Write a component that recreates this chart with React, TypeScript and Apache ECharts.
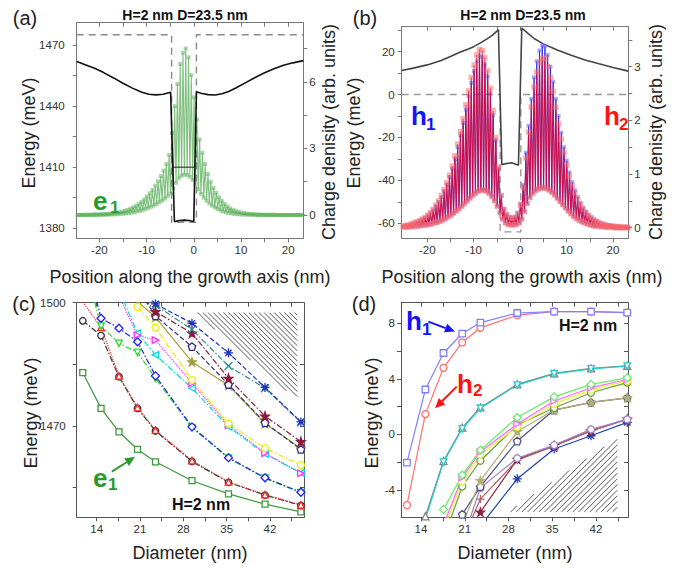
import React, { useEffect, useRef } from "react";
import * as echarts from "echarts";

const FONT = "'Liberation Sans', Arial, Helvetica, sans-serif";

// lattice sites (nm) for the oscillating charge densities
const SITE_X0 = -25.2;
const SITE_STEP = 0.5875;

// (a) e1 charge density: values on even sites (top) and odd sites (bot)
const aTop = [
  0, 0, 0, 0.01, 0.01, 0.01, 0.01, 0.02, 0.02, 0.03,
  0.03, 0.04, 0.05, 0.06, 0.08, 0.1, 0.12, 0.15, 0.19, 0.23,
  0.28, 0.34, 0.41, 0.49, 0.58, 0.7, 0.83, 0.98, 1.13, 1.32,
  1.52, 1.75, 2.0, 2.3, 2.7, 3.7, 4.9, 5.9, 6.8, 7.3,
  7.5, 7.1, 6.3, 5.3, 4.3, 3.4, 2.8, 2.3, 1.85, 1.5,
  1.22, 1.0, 0.8, 0.64, 0.5, 0.39, 0.3, 0.23, 0.18, 0.14,
  0.11, 0.08, 0.06, 0.05, 0.04, 0.03, 0.02, 0.02, 0.01, 0.01,
  0.01, 0.01, 0.01, 0, 0, 0, 0, 0, 0, 0,
  0, 0, 0, 0,
];
const aBot = [
  0, 0, 0, 0, 0, 0, 0.01, 0.01, 0.01, 0.01,
  0.01, 0.02, 0.02, 0.03, 0.03, 0.04, 0.05, 0.06, 0.07, 0.09,
  0.11, 0.13, 0.16, 0.19, 0.23, 0.27, 0.32, 0.37, 0.43, 0.5,
  0.57, 0.65, 0.74, 0.84, 0.97, 1.2, 1.45, 1.65, 1.77, 1.82,
  1.8, 1.72, 1.58, 1.38, 1.15, 0.95, 0.78, 0.64, 0.52, 0.42,
  0.34, 0.27, 0.21, 0.16, 0.12, 0.09, 0.07, 0.05, 0.04, 0.03,
  0.02, 0.02, 0.01, 0.01, 0.01, 0, 0, 0, 0, 0,
  0, 0, 0, 0, 0, 0, 0, 0, 0, 0,
  0, 0, 0, 0,
];
// (b) h1 / h2 charge densities
const h1Top = [
  0.03, 0.04, 0.05, 0.06, 0.08, 0.1, 0.12, 0.15, 0.18, 0.22,
  0.27, 0.33, 0.4, 0.48, 0.57, 0.68, 0.8, 0.94, 1.1, 1.28,
  1.5, 1.72, 1.95, 2.2, 2.45, 2.7, 2.92, 3.1, 3.2, 3.18,
  3.05, 2.82, 2.5, 2.1, 1.62, 1.1, 0.6, 0.35, 0.25, 0.2,
  0.18, 0.2, 0.28, 0.45, 0.8, 1.4, 1.9, 2.4, 2.8, 3.1,
  3.3, 3.4, 3.38, 3.22, 3.0, 2.72, 2.4, 2.08, 1.77, 1.5,
  1.25, 1.03, 0.85, 0.7, 0.57, 0.46, 0.37, 0.3, 0.24, 0.19,
  0.15, 0.12, 0.09, 0.07, 0.06, 0.05, 0.04, 0.03, 0.02, 0.02,
  0.01, 0.01, 0.01, 0.01,
];
const h2Top = [
  0.03, 0.04, 0.05, 0.07, 0.09, 0.11, 0.13, 0.16, 0.19, 0.23,
  0.28, 0.34, 0.42, 0.5, 0.6, 0.71, 0.84, 0.98, 1.15, 1.34,
  1.56, 1.79, 2.03, 2.29, 2.55, 2.8, 3.03, 3.22, 3.32, 3.3,
  3.17, 2.93, 2.6, 2.18, 1.68, 1.12, 0.6, 0.34, 0.24, 0.19,
  0.17, 0.19, 0.26, 0.42, 0.75, 1.3, 1.78, 2.25, 2.62, 2.9,
  3.08, 3.16, 3.15, 3.0, 2.8, 2.54, 2.24, 1.94, 1.65, 1.4,
  1.17, 0.96, 0.79, 0.65, 0.53, 0.43, 0.35, 0.28, 0.22, 0.18,
  0.14, 0.11, 0.09, 0.07, 0.05, 0.04, 0.03, 0.03, 0.02, 0.02,
  0.01, 0.01, 0.01, 0.01,
];
const hBot = [
  0.01, 0.01, 0.02, 0.02, 0.03, 0.03, 0.04, 0.05, 0.05, 0.06,
  0.07, 0.09, 0.1, 0.12, 0.14, 0.17, 0.2, 0.23, 0.27, 0.31,
  0.35, 0.4, 0.45, 0.5, 0.55, 0.6, 0.64, 0.68, 0.7, 0.7,
  0.68, 0.64, 0.58, 0.5, 0.4, 0.28, 0.16, 0.09, 0.06, 0.05,
  0.05, 0.06, 0.09, 0.16, 0.3, 0.45, 0.56, 0.64, 0.69, 0.72,
  0.74, 0.74, 0.73, 0.7, 0.66, 0.61, 0.55, 0.49, 0.43, 0.37,
  0.31, 0.26, 0.21, 0.17, 0.14, 0.11, 0.09, 0.07, 0.05, 0.04,
  0.03, 0.03, 0.02, 0.02, 0.01, 0.01, 0.01, 0, 0, 0,
  0, 0, 0, 0,
];

// potentials [position nm, energy meV]
const potA = [[-24.8, 1461.8], [-23, 1460.3], [-21, 1458.5], [-19, 1456.3], [-17, 1453.8], [-15, 1451.2], [-13, 1448.8], [-11, 1446.8], [-9.5, 1445.8], [-8, 1445.5], [-6.5, 1445.8], [-5.3, 1446.5], [-4.9, 1446.7], [-4.1, 1383.3], [-3, 1383.8], [-2, 1384], [-1, 1383.8], [0, 1383.3], [0.56, 1447], [1.5, 1446.3], [3, 1445.6], [4.5, 1445.4], [6, 1446], [7.5, 1447.3], [9, 1449], [11, 1451.5], [13, 1454], [15, 1456.3], [17, 1458.3], [19, 1460], [21, 1461.2], [23.2, 1462.3]];
const levelA = [[-4.4, 1410], [0.2, 1410]];
const bandA = [[-24.8, 1475], [-4.7, 1475], [-4.7, 1383], [0.56, 1383], [0.56, 1475], [23.2, 1475]];
const potB = [[-25.5, 11.2], [-23, 12.3], [-20, 13.8], [-17, 15.9], [-15, 17.7], [-13, 19.7], [-11, 21.3], [-10, 22.3], [-9, 23.5], [-7.2, 25.8], [-6, 27.6], [-5, 29.5], [-4.67, 30.2], [-3.94, -32.6], [-3, -32.2], [-1.8, -31.8], [-0.36, -33], [0.36, 31], [1.5, 28.8], [3, 26.1], [5, 23.6], [8, 20.7], [11, 18.3], [14, 16.1], [17, 14.3], [20, 12.6], [23.3, 10.9]];
const bandB = [[-25.5, 0], [-4.3, 0], [-4.3, -64], [0.15, -64], [0.15, 0], [23.3, 0]];

// (c) electron levels vs diameter (meV)
const diam = [11.75, 14.7, 17.6, 20.6, 23.5, 29.4, 35.3, 41.2, 47];
const cE1 = [1483.0, 1474.3, 1468.6, 1464.3, 1461.3, 1456.7, 1453.5, 1451.0, 1449.1];
const cRed = [1500.2, 1494.0, 1482.2, 1474.5, 1469.0, 1461.6, 1456.4, 1453.3, 1450.8];
const cBlack = [1495.6, 1492.0, 1482.0, 1474.3, 1468.8, 1461.4, 1456.3, 1453.2, 1450.7];
const cBlue = [1514, 1496.2, 1493.8, 1490.5, 1482.2, 1469.8, 1462.3, 1457.4, 1453.9];
const cGreen = [1511, 1494.3, 1490.1, 1487.9, 1481.6, 1469.6, 1462.2, 1457.3, 1453.8];
const cCyan = [null, null, 1503, 1492.6, 1487.3, 1479.2, 1469.8, 1463.2, 1458.6];
const cMag = [null, null, 1501.5, 1492.1, 1490.9, 1480.4, 1470.2, 1463.4, 1458.5];
const cYellow = [null, null, null, 1499.0, 1493.9, 1481.2, 1470.6, 1464.6, 1460.5];
const cOlive = [null, null, null, 1500.3, 1496.5, 1485.6, 1479.9, 1470.6, 1464.6];
const cNavy = [null, null, null, 1503.4, 1496.8, 1489.3, 1480.1, 1470.8, 1464.3];
const cDkRed = [null, null, null, 1503, 1497.8, 1492.6, 1481.6, 1472.4, 1466.2];
const cTeal = [null, null, null, null, 1499.4, 1493.5, 1484.6, 1479.2, 1470.9];
const cAster = [null, null, null, null, 1499.7, 1495.0, 1487.8, 1479.4, 1471.0];

// (d) hole levels vs diameter (meV)
const dH1 = [-2.04, 3.23, 5.86, 7.26, 8.05, 8.74, 8.84, 8.84, 8.77];
const dH2 = [-5.1, 1.46, 4.79, 6.62, 7.67, 8.58, 8.84, 8.84, 8.77];
const dGray = [null, -5.9, -1.92, 0.48, 1.94, 3.6, 4.39, 4.75, 4.94];
const dCyan = [null, -6.1, -2.0, 0.4, 1.88, 3.55, 4.35, 4.72, 4.92];
const dGreen = [null, null, -5.4, -2.93, -1.13, 1.22, 2.7, 3.6, 4.07];
const dMag = [null, null, -6.5, -3.1, -1.25, 0.75, 2.4, 3.36, 3.95];
const dYellow = [null, null, -6.8, -3.4, -1.45, 0.55, 2.2, 3.2, 3.85];
const dDkGreen = [null, null, -7.5, -3.75, -1.9, 0.67, 1.9, 3.0, 3.73];
const dOlive = [null, null, null, -6.5, -3.33, 0.2, 1.75, 2.3, 2.63];
const dNavy = [null, null, null, -5.76, -3.76, -0.48, 1.75, 2.3, 2.63];
const dMauve = [null, null, null, -7.7, -3.85, -1.72, -0.77, 0.36, 1.08];
const dBrown = [null, null, null, -7.65, -4.66, -1.86, -0.85, 0.25, 1.1];
const dDkRed = [null, null, null, null, -5.6, -1.8, -0.8, 0.25, 1.1];
const dAster = [null, null, null, null, -6.6, -3.2, -1.05, -0.1, 0.86];

// tick values
const tickXA = [-20, -15, -10, -5, 0, 5, 10, 15, 20];
const labXA = [-20, -10, 0, 10, 20];
const tickYA = [1380, 1395, 1410, 1425, 1440, 1455, 1470];
const labYA = [1380, 1410, 1440, 1470];
const tickRA = [0, 1.5, 3, 4.5, 6, 7.5];
const labRA = [0, 3, 6];
const tickYB = [-60, -50, -40, -30, -20, -10, 0, 10, 20, 30];
const labYB = [-60, -40, -20, 0, 20];
const tickRB = [0, 0.5, 1, 1.5, 2, 2.5, 3, 3.5];
const labRB = [0, 1, 2, 3];
const tickD = [14, 17.5, 21, 24.5, 28, 31.5, 35, 38.5, 42, 45.5];
const labD = [14, 21, 28, 35, 42];
const tickYC = [1455, 1470, 1485, 1500];
const labYC = [1470, 1500];
const tickYD = [-4, -2, 0, 2, 4, 6, 8];
const labYD = [-4, 0, 4, 8];

// annotations in data coordinates
const hatchC = [[29.9, 1497.6], [46.4, 1497.6], [46.4, 1476.3]];
const hatchD = [[27.9, -5.58], [45.4, -0.25], [45.4, -5.58]];
const arrowsC = [[16.45, 1458.9, 20.2, 1462.5]];
const arrowsD = [[15.17, 8.12, 19.44, 7.4], [19.71, 3.44, 16.24, 1.88]];

const PENT = "path://M5,0 L9.76,3.45 L7.94,9.05 L2.06,9.05 L0.24,3.45 Z";
const STAR = "path://M5,0 L6.18,3.38 L9.76,3.45 L6.9,5.62 L7.94,9.05 L5,7 L2.06,9.05 L3.1,5.62 L0.24,3.45 L3.82,3.38 Z";
const XMARK = "path://M0,0 L10,10 M10,0 L0,10";
const ASTER = "path://M5,0 L5,10 M0,5 L10,5 M1.5,1.5 L8.5,8.5 M8.5,1.5 L1.5,8.5";
const PLUS = "path://M5,0 L5,10 M0,5 L10,5";

function zigzag(top: number[], bot: number[]) {
  const pts: number[][] = [];
  top.forEach((t, k) => {
    const x = SITE_X0 + k * SITE_STEP;
    pts.push([x, t]);
    pts.push([x + SITE_STEP / 2, bot[k]]);
  });
  return pts;
}

function pair(ys: (number | null)[]) {
  return diam.map((d, i) => [d, ys[i]]);
}

const plain = (v: number) => String(v);

function xAxis(gi: number, min: number, max: number, ticks: number[], labels: number[] | null, top: boolean, color: string) {
  return {
    type: "value", gridIndex: gi, min, max, position: top ? "top" : "bottom",
    axisLine: { show: true, onZero: false, lineStyle: { color, width: 1 } },
    axisTick: { show: true, inside: top, length: 4, customValues: ticks, lineStyle: { color } },
    axisLabel: labels ? { show: true, customValues: labels, formatter: plain, margin: 6, fontSize: 11.5, color: "#333", fontFamily: FONT } : { show: false },
    splitLine: { show: false },
  };
}
function yAxis(gi: number, min: number, max: number, ticks: number[], labels: number[] | null, right: boolean, inside: boolean, margin: number, color: string) {
  return {
    type: "value", gridIndex: gi, min, max, position: right ? "right" : "left",
    axisLine: { show: true, onZero: false, lineStyle: { color, width: 1 } },
    axisTick: { show: true, inside, length: 4, customValues: ticks, lineStyle: { color } },
    axisLabel: labels ? { show: true, customValues: labels, formatter: plain, margin, fontSize: 11.5, color: "#333", fontFamily: FONT } : { show: false },
    splitLine: { show: false },
  };
}

function lineS(xi: number, yi: number, ys: (number | null)[], color: string, symbol: string, type: any, opt: any = {}) {
  return {
    type: "line", xAxisIndex: xi, yAxisIndex: yi, data: pair(ys),
    symbol, symbolSize: opt.size || 6.5, symbolRotate: opt.rot || 0, showSymbol: true,
    lineStyle: { color, width: 1.2, type },
    itemStyle: { color: opt.fill || "#fff", borderColor: color, borderWidth: 1.3 },
    connectNulls: false, z: 3,
  };
}

function hatchSeries(xi: number, yi: number, verts: number[][], dir: number[], spacing: number) {
  return {
    type: "custom", xAxisIndex: xi, yAxisIndex: yi, coordinateSystem: "cartesian2d",
    data: [verts[0]], silent: true, clip: false, z: 1,
    renderItem: (_p: any, api: any) => {
      const P = verts.map((v) => api.coord(v));
      const len = Math.hypot(dir[0], dir[1]);
      const d = [dir[0] / len, dir[1] / len];
      const n = [-d[1], d[0]];
      const proj = P.map((p: number[]) => p[0] * n[0] + p[1] * n[1]);
      const cmin = Math.min(...proj), cmax = Math.max(...proj);
      const children: any[] = [];
      for (let c = cmin + spacing / 2; c < cmax; c += spacing) {
        const hits: number[][] = [];
        for (let i = 0; i < P.length; i++) {
          const a = P[i], b = P[(i + 1) % P.length];
          const fa = a[0] * n[0] + a[1] * n[1] - c;
          const fb = b[0] * n[0] + b[1] * n[1] - c;
          if (fa === fb) continue;
          if ((fa <= 0 && fb >= 0) || (fa >= 0 && fb <= 0)) {
            const t = fa / (fa - fb);
            hits.push([a[0] + t * (b[0] - a[0]), a[1] + t * (b[1] - a[1])]);
          }
        }
        if (hits.length >= 2) {
          hits.sort((p, q) => (p[0] * d[0] + p[1] * d[1]) - (q[0] * d[0] + q[1] * d[1]));
          const p1 = hits[0], p2 = hits[hits.length - 1];
          children.push({ type: "line", shape: { x1: p1[0], y1: p1[1], x2: p2[0], y2: p2[1] }, style: { stroke: "#444", lineWidth: 0.9 } });
        }
      }
      return { type: "group", children };
    },
  };
}

function arrowSeries(xi: number, yi: number, arrows: number[][], colors: string[]) {
  return {
    type: "custom", xAxisIndex: xi, yAxisIndex: yi, coordinateSystem: "cartesian2d",
    data: arrows, silent: true, clip: false, z: 10,
    renderItem: (p: any, api: any) => {
      const a = api.coord([api.value(0), api.value(1)]);
      const b = api.coord([api.value(2), api.value(3)]);
      const color = colors[p.dataIndex];
      const dx = b[0] - a[0], dy = b[1] - a[1];
      const L = Math.hypot(dx, dy);
      const ux = dx / L, uy = dy / L;
      const hl = 10, hw = 4.5;
      const base = [b[0] - ux * hl, b[1] - uy * hl];
      return {
        type: "group",
        children: [
          { type: "line", shape: { x1: a[0], y1: a[1], x2: base[0], y2: base[1] }, style: { stroke: color, lineWidth: 2 } },
          { type: "polygon", shape: { points: [b, [base[0] - uy * hw, base[1] + ux * hw], [base[0] + uy * hw, base[1] - ux * hw]] }, style: { fill: color } },
        ],
      };
    },
  };
}

function txt(x: number, y: number, text: string, o: any = {}) {
  const align = o.align || "center";
  return {
    type: "text", x, y, rotation: o.rot || 0, silent: true, z: 100,
    style: {
      text, fontSize: o.size || 18, fontWeight: o.bold ? "bold" : "normal",
      fill: o.color || "#222", fontFamily: FONT,
      align, textAlign: align, verticalAlign: "middle", textVerticalAlign: "middle",
    },
  };
}

const GREEN = "#2a9a2a";
const BLUE = "#1414ff";
const RED = "#ff1414";

export default function App() {
  const ref = useRef<HTMLDivElement>(null);
  useEffect(() => {
    if (!ref.current) return;
    const chart = echarts.init(ref.current, null, { renderer: "svg" });
    const AB = "#777";
    const CD = "#555";
    const R = Math.PI / 2;
    const option: any = {
      animation: false,
      backgroundColor: "#fff",
      textStyle: { fontFamily: FONT },
      grid: [
        { left: 76.7, top: 22.7, width: 226.6, height: 215.6, outerBoundsMode: "none" },
        { left: 401.7, top: 26.7, width: 226.6, height: 211.6, outerBoundsMode: "none" },
        { left: 76.7, top: 302.7, width: 227.3, height: 214.6, outerBoundsMode: "none" },
        { left: 401, top: 302.7, width: 227, height: 214.6, outerBoundsMode: "none" },
      ],
      xAxis: [
        xAxis(0, -24.8, 23.2, tickXA, labXA, false, AB),
        xAxis(0, -24.8, 23.2, tickXA, null, true, AB),
        xAxis(1, -25.5, 23.3, tickXA, labXA, false, AB),
        xAxis(1, -25.5, 23.3, tickXA, null, true, AB),
        xAxis(2, 10.77, 47.5, tickD, labD, false, CD),
        xAxis(2, 10.77, 47.5, tickD, null, true, CD),
        xAxis(3, 10.8, 47.12, tickD, labD, false, CD),
        xAxis(3, 10.8, 47.12, tickD, null, true, CD),
      ],
      yAxis: [
        yAxis(0, 1375.1, 1480.9, tickYA, labYA, false, false, 12, AB),
        yAxis(0, -1.05, 8.66, tickRA, labRA, true, false, 6, AB),
        yAxis(1, -67, 31.6, tickYB, labYB, false, false, 7, AB),
        yAxis(1, -0.198, 3.745, tickRB, labRB, true, false, 6, AB),
        yAxis(2, 1447.8, 1500, tickYC, labYC, false, false, 11, CD),
        yAxis(2, 1447.8, 1500, tickYC, null, true, true, 6, CD),
        yAxis(3, -5.97, 9.48, tickYD, labYD, false, false, 6, CD),
        yAxis(3, -5.97, 9.48, tickYD, null, true, true, 6, CD),
      ],
      series: [
        // (a)
        { type: "line", xAxisIndex: 0, yAxisIndex: 0, data: bandA, showSymbol: false, symbol: "none", lineStyle: { color: "#8a8a8a", width: 1.4, type: [7, 5] }, z: 1 },
        { type: "line", xAxisIndex: 0, yAxisIndex: 1, data: zigzag(aTop, aBot), symbol: "rect", symbolSize: 4, showSymbol: true,
          lineStyle: { color: "rgba(45,150,45,0.6)", width: 1.1 }, itemStyle: { color: "rgba(85,175,85,0.5)" }, z: 2 },
        { type: "line", xAxisIndex: 0, yAxisIndex: 0, data: potA, showSymbol: false, symbol: "none", lineStyle: { color: "#111", width: 1.6 }, z: 3 },
        { type: "line", xAxisIndex: 0, yAxisIndex: 0, data: levelA, showSymbol: false, symbol: "none", lineStyle: { color: "#222", width: 1 }, z: 3 },
        // (b)
        { type: "line", xAxisIndex: 2, yAxisIndex: 2, data: bandB, showSymbol: false, symbol: "none", lineStyle: { color: "#999", width: 1.4, type: [7, 5] }, z: 1 },
        { type: "line", xAxisIndex: 2, yAxisIndex: 2, data: potB, showSymbol: false, symbol: "none", lineStyle: { color: "#444", width: 1.6 }, z: 2 },
        { type: "line", xAxisIndex: 2, yAxisIndex: 3, data: zigzag(h1Top, hBot), symbol: "rect", symbolSize: 4, showSymbol: true,
          lineStyle: { color: "rgba(30,30,230,0.85)", width: 1 }, itemStyle: { color: "rgba(110,110,255,0.6)" }, z: 3 },
        { type: "line", xAxisIndex: 2, yAxisIndex: 3, data: zigzag(h2Top, hBot), symbol: "rect", symbolSize: 5.5, showSymbol: true,
          lineStyle: { color: "rgba(230,0,40,0.8)", width: 1.1 }, itemStyle: { color: "rgba(255,100,100,0.5)" }, z: 4 },
        // (c)
        hatchSeries(4, 4, hatchC, [1, 1], 3.6),
        lineS(4, 4, cE1, "#3d9a3d", "rect", "solid", { size: 6 }),
        lineS(4, 4, cBlack, "#333333", "circle", [6, 2, 1.5, 2]),
        lineS(4, 4, cRed, "#ff2020", "triangle", "dotted"),
        lineS(4, 4, cGreen, "#22dd22", "triangle", [6, 2, 1.5, 2], { rot: 180 }),
        lineS(4, 4, cBlue, "#2020ff", "diamond", [6, 2, 1.5, 2], { size: 8 }),
        lineS(4, 4, cCyan, "#00dddd", "triangle", [6, 2, 1.5, 2], { rot: 90 }),
        lineS(4, 4, cMag, "#ff33ff", "triangle", "dotted", { rot: -90 }),
        lineS(4, 4, cYellow, "#eeee00", "circle", [6, 2, 1.5, 2], { size: 7 }),
        lineS(4, 4, cOlive, "#a0a040", STAR, "solid", { size: 8, fill: "#a0a040" }),
        lineS(4, 4, cNavy, "#303080", PENT, "dashed", { size: 7.5 }),
        lineS(4, 4, cDkRed, "#8b1a3c", STAR, [6, 2, 1.5, 2], { size: 8.5, fill: "#8b1a3c" }),
        lineS(4, 4, cTeal, "#2a9090", XMARK, [6, 2, 1.5, 2], { size: 8 }),
        lineS(4, 4, cAster, "#2030c0", ASTER, "dashed", { size: 9 }),
        arrowSeries(4, 4, arrowsC, [GREEN]),
        // (d)
        hatchSeries(6, 6, hatchD, [1, -1], 4),
        lineS(6, 6, dAster, "#2040b0", ASTER, "solid", { size: 9 }),
        lineS(6, 6, dDkRed, "#902040", STAR, "solid", { size: 8, fill: "#902040" }),
        lineS(6, 6, dBrown, "#b06060", PLUS, "solid", { size: 8 }),
        lineS(6, 6, dMauve, "#a080c8", "circle", "solid", { size: 7 }),
        lineS(6, 6, dNavy, "#50508a", PENT, "solid", { size: 7.5 }),
        lineS(6, 6, dOlive, "#b0b070", STAR, "solid", { size: 8, fill: "#b0b070" }),
        lineS(6, 6, dDkGreen, "#66a040", "circle", "solid", { size: 7 }),
        lineS(6, 6, dYellow, "#eeee33", "circle", "solid", { size: 7 }),
        lineS(6, 6, dMag, "#ff66ff", "triangle", "solid", { rot: -90 }),
        lineS(6, 6, dGreen, "#66ee66", "diamond", "solid", { size: 8 }),
        lineS(6, 6, dGray, "#808080", "triangle", "solid", { size: 7 }),
        lineS(6, 6, dCyan, "#22cccc", "triangle", "solid", { rot: 180 }),
        lineS(6, 6, dH2, "#ff7070", "circle", "solid", { size: 7 }),
        lineS(6, 6, dH1, "#8080ff", "rect", "solid", { size: 6.5 }),
        arrowSeries(6, 6, arrowsD, [BLUE, RED]),
      ],
      graphic: [
        txt(25, 18, "(a)", { size: 20 }),
        txt(365, 18, "(b)", { size: 20 }),
        txt(24, 304, "(c)", { size: 20 }),
        txt(364, 304, "(d)", { size: 20 }),
        txt(185, 15, "H=2 nm D=23.5 nm", { size: 14, bold: true, color: "#111" }),
        txt(523, 15, "H=2 nm D=23.5 nm", { size: 14, bold: true, color: "#111" }),
        txt(190, 277, "Position along the growth axis (nm)"),
        txt(522, 277, "Position along the growth axis (nm)"),
        txt(29, 133, "Energy (meV)", { rot: R }),
        txt(329, 132, "Charge denisity (arb. units)", { rot: R }),
        txt(354, 133, "Energy (meV)", { rot: R }),
        txt(656, 132, "Charge denisity (arb. units)", { rot: R }),
        txt(31, 413, "Energy (meV)", { rot: R }),
        txt(372, 413, "Energy (meV)", { rot: R }),
        txt(190, 553, "Diameter (nm)"),
        txt(515, 553, "Diameter (nm)"),
        txt(201, 504, "H=2 nm", { size: 16, bold: true, color: "#111" }),
        txt(588, 325, "H=2 nm", { size: 16, bold: true, color: "#111" }),
        txt(93, 201, "e", { size: 26, bold: true, color: GREEN, align: "left" }),
        txt(110, 207, "1", { size: 17, bold: true, color: GREEN, align: "left" }),
        txt(411, 116, "h", { size: 26, bold: true, color: BLUE, align: "left" }),
        txt(426, 124, "1", { size: 17, bold: true, color: BLUE, align: "left" }),
        txt(604, 116, "h", { size: 26, bold: true, color: RED, align: "left" }),
        txt(619, 124, "2", { size: 17, bold: true, color: RED, align: "left" }),
        txt(93, 478, "e", { size: 26, bold: true, color: GREEN, align: "left" }),
        txt(108, 484, "1", { size: 17, bold: true, color: GREEN, align: "left" }),
        txt(406, 321, "h", { size: 26, bold: true, color: BLUE, align: "left" }),
        txt(422, 329, "1", { size: 17, bold: true, color: BLUE, align: "left" }),
        txt(457, 384, "h", { size: 26, bold: true, color: RED, align: "left" }),
        txt(473, 390, "2", { size: 17, bold: true, color: RED, align: "left" }),
      ],
    };
    chart.setOption(option);
    return () => chart.dispose();
  }, []);
  return (
    <div
      ref={ref}
      style={{ position: "fixed", left: 0, top: 0, width: 684, height: 568, background: "#fff" }}
    />
  );
}
